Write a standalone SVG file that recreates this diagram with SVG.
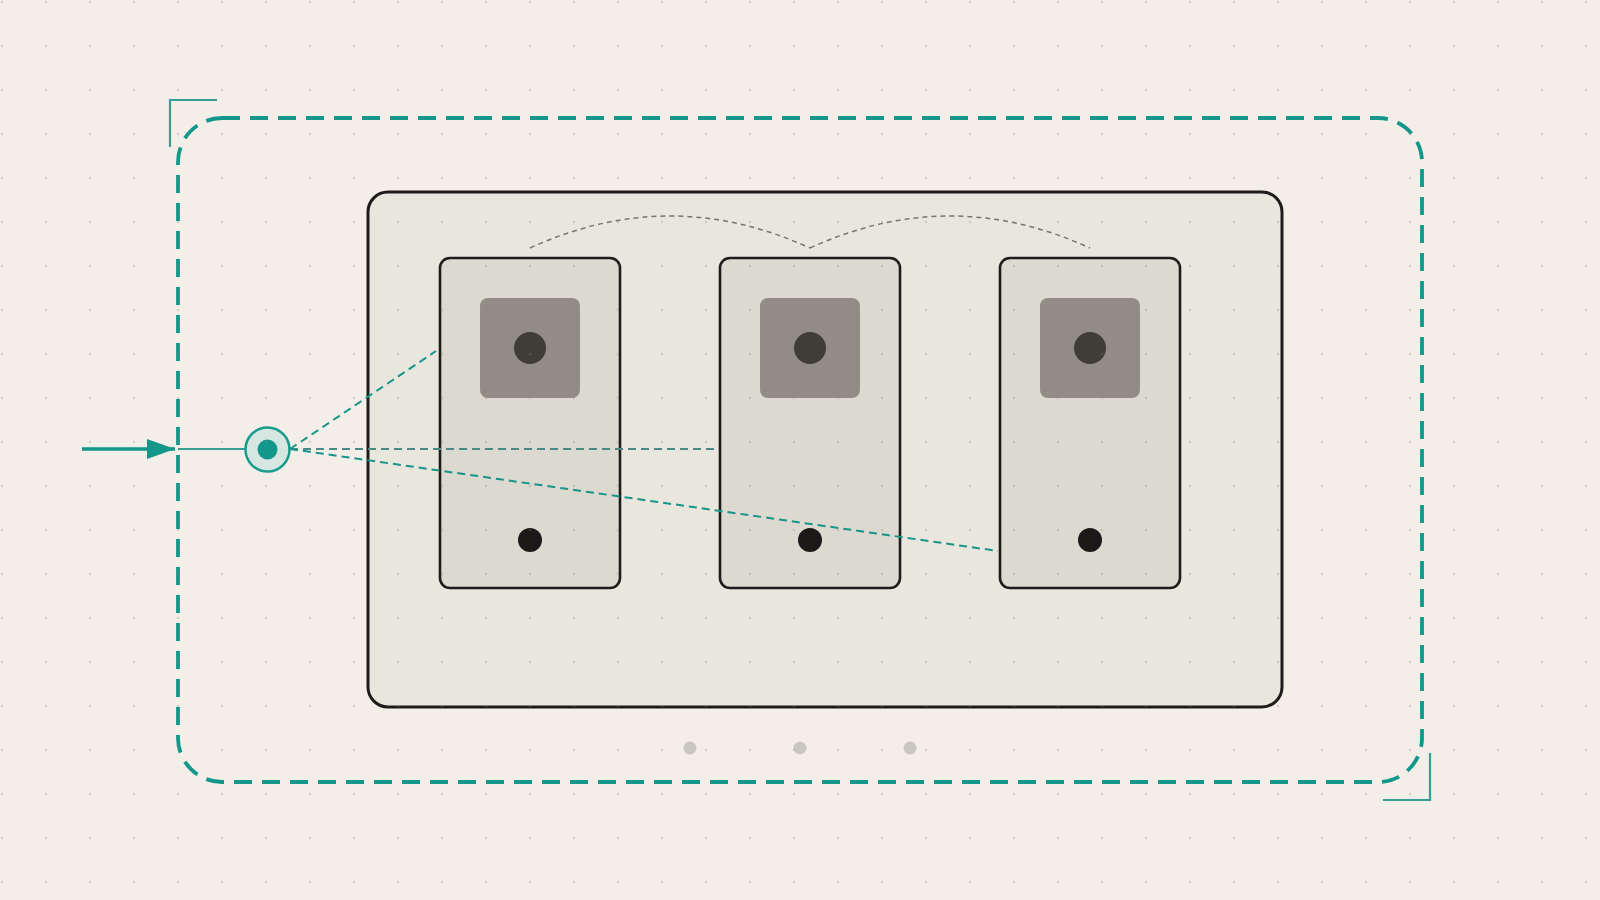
<svg xmlns="http://www.w3.org/2000/svg" width="1600" height="900" viewBox="0 0 1600 900">
<defs>
<style>
.card{fill:#dcd9d1;stroke:#1e1c1a;stroke-width:2.6}
.pad{fill:#918d86}
.knob{fill:#403c38}
.pin{fill:#1c1a18}
.arc{fill:none;stroke:#7a756f;stroke-width:1.5;stroke-dasharray:5 4}
.link{fill:none;stroke:#169588;stroke-width:2;stroke-dasharray:8 5}
.bracket{fill:none;stroke:#3a9d93;stroke-width:2.2}
.foot{fill:#c9c5bf}
</style>
<pattern id="grid" x="0" y="0" width="44" height="44" patternUnits="userSpaceOnUse">
<circle cx="2" cy="2" r="1.2" fill="#8a8070" fill-opacity="0.28"/>
</pattern>
<marker id="arrow" viewBox="0 0 28 20" refX="28" refY="10" markerWidth="28" markerHeight="20" markerUnits="userSpaceOnUse" orient="auto">
<path d="M0 0 L28 10 L0 20 Z" fill="#12978a"/>
</marker>
</defs>
<rect x="0" y="0" width="1600" height="900" fill="#f3efe8"/>
<g id="frame">
<rect x="178" y="118" width="1244" height="664" rx="44" fill="none" stroke="#12978a" stroke-width="3.8" stroke-dasharray="18 10"/>
<path class="bracket" d="M170 147 V100 H217"/>
<path class="bracket" d="M1383 800 H1430 V753"/>
</g>
<g id="board">
<rect x="368" y="192" width="914" height="515" rx="20" fill="#e9e6de" stroke="#1e1c1a" stroke-width="3"/>
</g>
<g id="card1">
<rect class="card" x="440" y="258" width="180" height="330" rx="10"/>
<rect class="pad" x="480" y="298" width="100" height="100" rx="8"/>
<circle class="knob" cx="530" cy="348" r="16"/>
<circle class="pin" cx="530" cy="540" r="12"/>
</g>
<g id="card2">
<rect class="card" x="720" y="258" width="180" height="330" rx="10"/>
<rect class="pad" x="760" y="298" width="100" height="100" rx="8"/>
<circle class="knob" cx="810" cy="348" r="16"/>
<circle class="pin" cx="810" cy="540" r="12"/>
</g>
<g id="card3">
<rect class="card" x="1000" y="258" width="180" height="330" rx="10"/>
<rect class="pad" x="1040" y="298" width="100" height="100" rx="8"/>
<circle class="knob" cx="1090" cy="348" r="16"/>
<circle class="pin" cx="1090" cy="540" r="12"/>
</g>
<g id="connectors">
<path class="arc" d="M530 248 Q670 184 810 248"/>
<path class="arc" d="M810 248 Q950 184 1090 248"/>
<line x1="82" y1="449" x2="175" y2="449" stroke="#12978a" stroke-width="3.5" marker-end="url(#arrow)"/>
<line x1="178" y1="449" x2="245" y2="449" stroke="#3a9d93" stroke-width="2.2"/>
<line class="link" x1="290" y1="449" x2="436" y2="351"/>
<line class="link" x1="290" y1="449" x2="717" y2="449" style="stroke:#4a8a84"/>
<line class="link" x1="290" y1="449" x2="998" y2="551"/>
</g>
<g id="source">
<circle cx="267.5" cy="449.5" r="22" fill="#d6e7e1" stroke="#189a8c" stroke-width="2.5"/>
<circle cx="267.5" cy="449.5" r="10" fill="#12978a"/>
</g>
<g id="indicators">
<circle class="foot" cx="690" cy="748" r="6.5"/>
<circle class="foot" cx="800" cy="748" r="6.5"/>
<circle class="foot" cx="910" cy="748" r="6.5"/>
</g>
<rect x="0" y="0" width="1600" height="900" fill="url(#grid)" pointer-events="none"/>
</svg>
